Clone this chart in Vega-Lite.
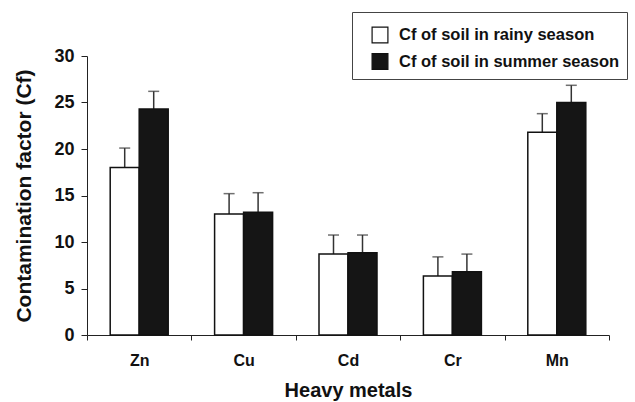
{
  "$schema": "https://vega.github.io/schema/vega-lite/v6.json",
  "autosize": {"type": "none"},
  "padding": {"left": 87, "top": 56, "right": 26, "bottom": 67},
  "width": 522,
  "height": 279,
  "config": {
    "font": "Liberation Sans",
    "view": {"stroke": null},
    "axis": {"grid": false, "domainColor": "#222", "tickColor": "#222", "labelColor": "#111", "titleColor": "#111", "labelFontWeight": "bold", "titleFontWeight": "bold"}
  },
  "data": {
    "values": [
      {"metal": "Zn", "season": "Cf of soil in rainy season", "cf": 18.0, "upper": 20.1},
      {"metal": "Zn", "season": "Cf of soil in summer season", "cf": 24.3, "upper": 26.2},
      {"metal": "Cu", "season": "Cf of soil in rainy season", "cf": 13.0, "upper": 15.2},
      {"metal": "Cu", "season": "Cf of soil in summer season", "cf": 13.2, "upper": 15.3},
      {"metal": "Cd", "season": "Cf of soil in rainy season", "cf": 8.7, "upper": 10.75},
      {"metal": "Cd", "season": "Cf of soil in summer season", "cf": 8.85, "upper": 10.75},
      {"metal": "Cr", "season": "Cf of soil in rainy season", "cf": 6.35, "upper": 8.4},
      {"metal": "Cr", "season": "Cf of soil in summer season", "cf": 6.8, "upper": 8.7},
      {"metal": "Mn", "season": "Cf of soil in rainy season", "cf": 21.8, "upper": 23.8},
      {"metal": "Mn", "season": "Cf of soil in summer season", "cf": 25.0, "upper": 26.85}
    ]
  },
  "encoding": {
    "x": {
      "field": "metal", "type": "nominal", "sort": ["Zn", "Cu", "Cd", "Cr", "Mn"],
      "scale": {"paddingInner": 0, "paddingOuter": 0},
      "axis": {"title": "Heavy metals", "labelAngle": 0, "labelFontSize": 16, "labelPadding": 12, "tickBand": "extent", "tickSize": 5, "titleFontSize": 20, "titlePadding": 12, "domainWidth": 1}
    },
    "xOffset": {
      "field": "season", "type": "nominal",
      "scale": {"paddingInner": 0, "paddingOuter": 0.8}
    }
  },
  "layer": [
    {
      "mark": {"type": "rule", "color": "#333", "strokeWidth": 1.5},
      "encoding": {
        "y": {"field": "cf", "type": "quantitative"},
        "y2": {"field": "upper"}
      }
    },
    {
      "mark": {"type": "tick", "color": "#333", "thickness": 1.5, "size": 11},
      "encoding": {
        "y": {"field": "upper", "type": "quantitative"}
      }
    },
    {
      "mark": {"type": "bar", "stroke": "#111", "strokeWidth": 1.5},
      "encoding": {
        "y": {
          "field": "cf", "type": "quantitative",
          "scale": {"domain": [0, 30], "nice": false},
          "axis": {"title": "Contamination factor (Cf)", "values": [0, 5, 10, 15, 20, 25, 30], "labelFontSize": 18, "labelPadding": 7, "tickSize": 6, "titleFontSize": 21, "titlePadding": 19}
        },
        "color": {
          "field": "season", "type": "nominal",
          "scale": {"domain": ["Cf of soil in rainy season", "Cf of soil in summer season"], "range": ["#ffffff", "#151515"]},
          "legend": {
            "title": " ", "titleFontSize": 5, "titlePadding": 2,
            "orient": "none", "legendX": 265, "legendY": -44,
            "strokeColor": "#444", "padding": 7, "symbolOffset": 12,
            "symbolType": "square", "symbolSize": 250, "symbolStrokeColor": "#111", "symbolStrokeWidth": 1.2,
            "labelFontSize": 16.5, "labelFontWeight": "bold", "labelColor": "#111", "labelOffset": 10, "labelLimit": 0, "rowPadding": 4.5
          }
        }
      }
    }
  ]
}
